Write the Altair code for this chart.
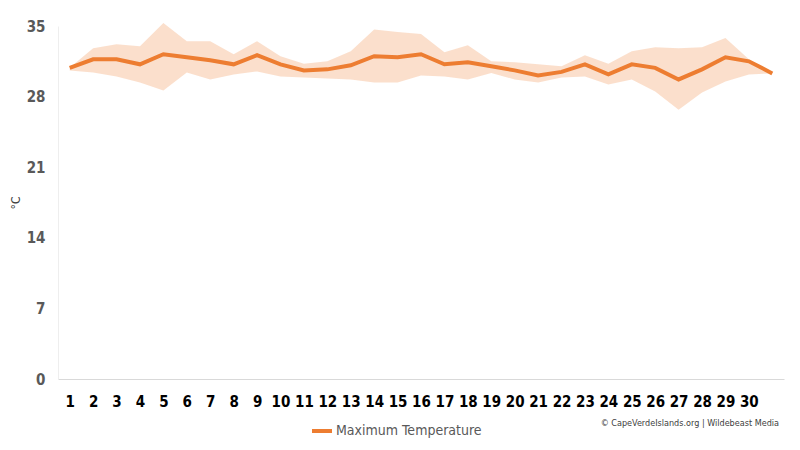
import altair as alt
import pandas as pd

# Daily maximum temperature (°C) with min/max band
days = [1, 2, 3, 4, 5, 6, 7, 8, 9, 10, 11, 12, 13, 14, 15, 16,
        17, 18, 19, 20, 21, 22, 23, 24, 25, 26, 27, 28, 29, 30, 31]
max_temp = [30.85, 31.7, 31.7, 31.2, 32.2, 31.9, 31.6, 31.2, 32.1, 31.2, 30.6,
            30.7, 31.1, 32.0, 31.9, 32.2, 31.2, 31.4, 31.0, 30.6, 30.1, 30.45,
            31.2, 30.2, 31.2, 30.85, 29.7, 30.7, 31.9, 31.5, 30.3]
band_high = [30.85, 32.8, 33.2, 33.0, 35.3, 33.5, 33.5, 32.2, 33.5, 32.0, 31.25,
             31.5, 32.5, 34.65, 34.4, 34.2, 32.4, 33.1, 31.5, 31.4, 31.2, 31.0,
             32.1, 31.25, 32.5, 32.9, 32.8, 32.9, 33.8, 31.7, 30.3]
band_low = [30.6, 30.4, 30.0, 29.4, 28.6, 30.4, 29.7, 30.2, 30.5, 30.0, 29.9,
            29.8, 29.7, 29.4, 29.4, 30.1, 30.0, 29.7, 30.35, 29.7, 29.4, 29.9,
            30.0, 29.2, 29.7, 28.5, 26.7, 28.4, 29.5, 30.2, 30.3]
x_labels = [1, 2, 3, 4, 5, 6, 7, 8, 9, 10, 11, 12, 13, 14, 15,
            16, 17, 18, 19, 20, 21, 22, 23, 24, 25, 26, 27, 28, 29, 30]
y_ticks = [0, 7, 14, 21, 28, 35]

FONT = "DejaVu Sans Condensed, sans-serif"

df = pd.DataFrame({
    "day": days,
    "temp": max_temp,
    "high": band_high,
    "low": band_low,
})

x_scale = alt.Scale(domain=[0.5, 31.5], nice=False, zero=False)
y_scale = alt.Scale(domain=[0, 35], nice=False)

x_axis = alt.Axis(
    values=x_labels, title=None, grid=False, ticks=False,
    labelOverlap=False, labelBound=False, labelFlush=False,
    domainColor="#D9D9D9", labelFont=FONT, labelFontSize=15,
    labelFontWeight="bold", labelColor="#000000", labelPadding=15)
y_axis = alt.Axis(
    values=y_ticks, title="°C", grid=False, ticks=False,
    labelOverlap=False, domainColor="#EEEEEE", labelFont=FONT,
    labelFontSize=15, labelFontWeight="bold", labelColor="#595959",
    labelPadding=13, titleFont=FONT, titleFontSize=12,
    titleFontWeight="normal", titleColor="#404040", titlePadding=4)

base = alt.Chart(df)

band = base.mark_area(color="#F8CBAD", opacity=0.62).encode(
    x=alt.X("day:Q", scale=x_scale, axis=x_axis),
    y=alt.Y("low:Q", scale=y_scale, axis=y_axis),
    y2="high:Q",
)

line = base.mark_line(strokeWidth=4).encode(
    x=alt.X("day:Q", scale=x_scale, axis=x_axis),
    y=alt.Y("temp:Q", scale=y_scale, axis=y_axis),
    color=alt.Color("series:N", scale=alt.Scale(range=["#ED7D31"]),
                    legend=alt.Legend(
                        title=None, orient="none", legendX=252, legendY=393,
                        symbolType="stroke", symbolStrokeWidth=4,
                        symbolSize=400, labelFont=FONT, labelFontSize=14,
                        labelColor="#595959", labelOffset=2, labelLimit=0)),
).transform_calculate(series="'Maximum Temperature'")

chart = alt.layer(band, line).properties(
    width=726, height=353,
    autosize=alt.AutoSizeParams(type="none"),
    padding={"left": 50, "top": 18, "right": 8, "bottom": 63},
    title=alt.TitleParams(
        "© CapeVerdeIslands.org | Wildebeast Media", orient="bottom",
        anchor="end", font=FONT, fontSize=9, fontWeight="normal",
        color="#404040", offset=0, dy=-20, dx=-5),
).configure(background="white").configure_view(stroke=None)

chart.save("out.html", embed_options={"renderer": "svg", "actions": False})
